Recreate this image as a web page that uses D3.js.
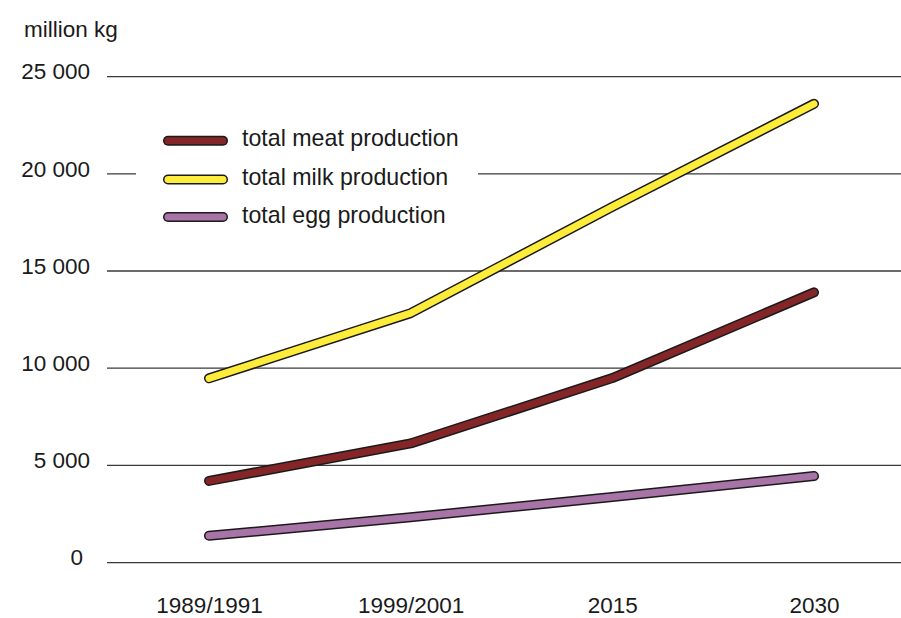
<!DOCTYPE html>
<html>
<head>
<meta charset="utf-8">
<script src="https://cdn.jsdelivr.net/npm/d3@7"></script>
<style>
  html, body { margin: 0; padding: 0; background: #fff; }
  svg { display: block; font-family: "Liberation Sans", Arial, sans-serif; }
</style>
</head>
<body>
<svg id="chart" width="901" height="618"></svg>
<script>
// Production projections, million kg
const periods = ["1989/1991", "1999/2001", "2015", "2030"];
const meat = [4200, 6130, 9490, 13900];
const milk = [9480, 12830, 18300, 23600];
const egg  = [1380, 2330, 3370, 4450];
const yTicks = [0, 5000, 10000, 15000, 20000, 25000];
const seriesNames = ["total meat production", "total milk production", "total egg production"];
const seriesColors = ["#842628", "#fdec3a", "#a873a6"];

const svg = d3.select("#chart");

const x = d3.scalePoint().domain(periods).range([209, 814]);
const y = d3.scaleLinear().domain([0, 25000]).range([562.6, 76.6]);

const fmt = v => v === 0 ? "0" : d3.format(",")(v).replace(/,/g, " ");

// horizontal gridlines
const yAxis = d3.axisLeft(y).tickValues(yTicks).tickSize(0).tickFormat(fmt);
const grid = svg.append("g");
grid.selectAll("line.grid")
  .data(yTicks)
  .join("line")
  .attr("class", "grid")
  .attr("x1", 107).attr("x2", 901)
  .attr("y1", d => y(d)).attr("y2", d => y(d))
  .attr("stroke", "#3a3a3a")
  .attr("stroke-width", 1.3);

// y tick labels
const ya = svg.append("g").attr("transform", "translate(90,0)").call(yAxis);
ya.select(".domain").remove();
ya.selectAll("text")
  .attr("x", d => d === 0 ? -7 : 0)
  .attr("dy", "0.1em")
  .attr("fill", "#1a1a1a")
  .style("font-size", "22.5px")
  .style("font-family", "'Liberation Sans', Arial, sans-serif");

// unit label
svg.append("text")
  .attr("x", 24).attr("y", 37)
  .attr("fill", "#1a1a1a")
  .style("font-size", "22.5px")
  .text("million kg");

// x axis labels
const xAxis = d3.axisBottom(x).tickSize(0).tickPadding(0);
const xa = svg.append("g").attr("transform", "translate(0,613)").call(xAxis);
xa.select(".domain").remove();
xa.selectAll("text")
  .attr("y", 0).attr("dy", 0)
  .attr("fill", "#1a1a1a")
  .style("font-size", "22.5px")
  .style("font-family", "'Liberation Sans', Arial, sans-serif");

// lines: black casing under coloured core
const series = [
  { name: seriesNames[2], values: egg, color: seriesColors[2] },
  { name: seriesNames[0], values: meat, color: seriesColors[0] },
  { name: seriesNames[1], values: milk, color: seriesColors[1] }
];
const line = d3.line()
  .x((d, i) => x(periods[i]))
  .y(d => y(d));

series.forEach(s => {
  svg.append("path")
    .attr("d", line(s.values))
    .attr("fill", "none")
    .attr("stroke", "#1a1a1a")
    .attr("stroke-width", 10)
    .attr("stroke-linecap", "round")
    .attr("stroke-linejoin", "round");
  svg.append("path")
    .attr("d", line(s.values))
    .attr("fill", "none")
    .attr("stroke", s.color)
    .attr("stroke-width", 7)
    .attr("stroke-linecap", "round")
    .attr("stroke-linejoin", "round");
});

// legend on a white panel
const legend = svg.append("g");
legend.append("rect")
  .attr("x", 136).attr("y", 112)
  .attr("width", 342).attr("height", 128)
  .attr("fill", "#fff");

const legendOrder = [0, 1, 2];
const legendY = [140.7, 179.5, 217];
legendOrder.forEach((k, i) => {
  const g = legend.append("g").attr("transform", `translate(0,${legendY[i]})`);
  g.append("line")
    .attr("x1", 168).attr("x2", 223)
    .attr("stroke", "#1a1a1a").attr("stroke-width", 10)
    .attr("stroke-linecap", "round");
  g.append("line")
    .attr("x1", 168).attr("x2", 223)
    .attr("stroke", seriesColors[k]).attr("stroke-width", 7)
    .attr("stroke-linecap", "round");
  g.append("text")
    .attr("x", 242).attr("y", 5.5)
    .attr("fill", "#1a1a1a")
    .style("font-size", "23.2px")
    .text(seriesNames[k]);
});
</script>
</body>
</html>
